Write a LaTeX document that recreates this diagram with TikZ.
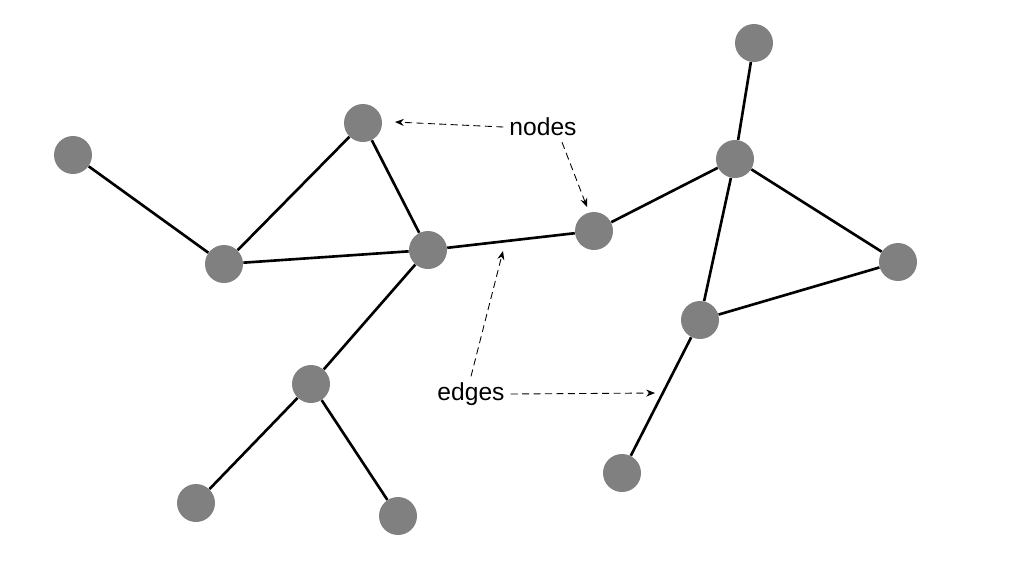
\documentclass[tikz,border=0pt]{standalone}
\usepackage{fontspec}
\setmainfont{Liberation Sans}
\usepackage{tikz}
\usetikzlibrary{arrows.meta}

\begin{document}
\begin{tikzpicture}[x=0.02cm, y=-0.02cm,
  vertex/.style={circle, fill=gray, minimum size=38*0.02cm, inner sep=0pt},
  edge/.style={line width=1.5pt},
  pointer/.style={dashed, dash pattern=on 4pt off 2.5pt, line width=0.5pt, -{Stealth[length=5pt, width=4pt]}},
  lbl/.style={font=\fontsize{14}{16}\selectfont}]
  \useasboundingbox (0,0) rectangle (1024,576);
  \node (a) [vertex] at (73,155) {};
  \node (b) [vertex] at (363,123) {};
  \node (c) [vertex] at (224,264) {};
  \node (d) [vertex] at (428,250) {};
  \node (e) [vertex] at (594,231) {};
  \node (f) [vertex] at (735,159) {};
  \node (g) [vertex] at (754,43) {};
  \node (h) [vertex] at (898,262) {};
  \node (i) [vertex] at (700,320) {};
  \node (j) [vertex] at (622,473) {};
  \node (k) [vertex] at (311,384) {};
  \node (l) [vertex] at (196,503) {};
  \node (m) [vertex] at (398,516) {};
  \draw [edge] (a) -- (c) (c) -- (b) (b) -- (d) (c) -- (d) (d) -- (e) -- (f) (f) -- (g) (f) -- (h) (f) -- (i) (i) -- (h) (i) -- (j) (d) -- (k) (k) -- (l) (k) -- (m);
  \coordinate (de) at (503,251);
  \coordinate (ij) at (655,393);
  \coordinate (bt) at (395,122);
  \coordinate (et) at (587,207);
  \node (nodes) [lbl] at (543,127) {nodes};
  \node (edges) [lbl] at (471,394) {edges};
  \draw [pointer] (nodes.west) -- (bt);
  \draw [pointer] ([xshift=19*0.02cm]nodes.south) -- (et);
  \draw [pointer] (edges.north) -- (de);
  \draw [pointer] (edges.east) -- (ij);
\end{tikzpicture}
\end{document}
